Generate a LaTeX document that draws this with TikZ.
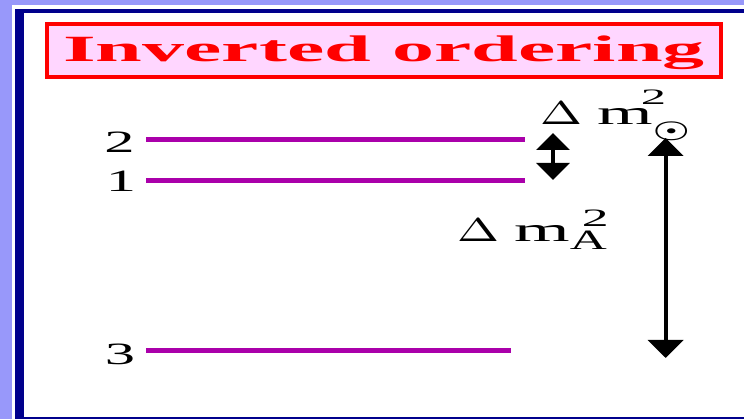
\documentclass[tikz,border=0pt]{standalone}
\usepackage[no-math]{fontspec}
\setmainfont{Liberation Serif}
\usepackage{graphicx}
\usetikzlibrary{arrows.meta}
\definecolor{lav}{RGB}{152,152,250}
\definecolor{dkblue}{RGB}{0,0,140}
\definecolor{titlepink}{RGB}{255,214,255}
\definecolor{titlered}{RGB}{255,0,0}
\definecolor{lvlpurple}{RGB}{170,0,170}
\tikzset{
  level/.style={line width=5pt, draw=lvlpurple},
  lvllabel/.style={inner sep=0pt, anchor=base, font=\fontsize{31}{31}\selectfont},
  dmlabel/.style={inner sep=0pt, anchor=base west},
  smallarrow/.style={line width=4pt, {Triangle[width=33pt,length=17pt]}-{Triangle[width=33pt,length=17pt]}},
  bigarrow/.style={line width=4pt, {Triangle[width=35pt,length=18pt]}-{Triangle[width=35pt,length=18pt]}},
  titlebox/.style={draw=titlered, fill=titlepink, line width=4pt, minimum width=674pt, minimum height=53pt,
    inner sep=0pt, text height=25pt, text depth=2pt, text=titlered}
}
\newcommand{\wide}[2]{\scalebox{#1}[1]{#2}}
\newcommand{\dmmain}{\resizebox*{42pt}{22.5pt}{$\Delta$}\kern15pt{\fontsize{34}{34}\selectfont\wide{2.1}{m}}}
\begin{document}
\begin{tikzpicture}[x=1pt,y=-1pt]
\useasboundingbox (0,0) rectangle (744,419);
% background and frame
\fill[lav] (0,0) rectangle (744,419);
\fill[white] (12,5) rectangle (744,419);
\fill[dkblue] (15,9) rectangle (744,13);
\fill[dkblue] (15,9) rectangle (24,419);
\fill[dkblue] (24,416.5) rectangle (744,419);
% title
\node[titlebox] (title) at (384,50.5) {\fontsize{37}{37}\selectfont\bfseries\wide{2.27}{Inverted ordering}};
% levels
\coordinate (l2a) at (146,139.5); \coordinate (l2b) at (525,139.5);
\coordinate (l1a) at (146,180.5); \coordinate (l1b) at (525,180.5);
\coordinate (l3a) at (146,350.5); \coordinate (l3b) at (511,350.5);
\draw[level] (l2a) -- (l2b);
\draw[level] (l1a) -- (l1b);
\draw[level] (l3a) -- (l3b);
\node[lvllabel] (n2) at (119.5,153) {\wide{1.95}{2}};
\node[lvllabel] (n1) at (121,192) {\wide{1.95}{1}};
\node[lvllabel] (n3) at (120,364) {\wide{1.95}{3}};
% arrows
\coordinate (s1) at (553,133); \coordinate (s2) at (553,180);
\draw[smallarrow] (s1) -- (s2);
\coordinate (b1) at (665.7,138); \coordinate (b2) at (665.7,358);
\draw[bigarrow] (b1) -- (b2);
% labels
\node[dmlabel] (dmsol) at (540,125) {\dmmain%
  \rlap{\kern-12pt\raisebox{20pt}{\fontsize{22}{22}\selectfont\wide{2.3}{2}}}%
  \rlap{\raisebox{-13pt}{\resizebox*{37pt}{19pt}{\boldmath$\odot$}}}};
\node[dmlabel] (dmatm) at (457,242) {\dmmain%
  \rlap{\kern12pt\raisebox{15pt}{\fontsize{25}{25}\selectfont\wide{2.15}{2}}}%
  \rlap{\raisebox{-8pt}{\fontsize{28}{28}\selectfont\wide{1.83}{A}}}};
\end{tikzpicture}
\end{document}
